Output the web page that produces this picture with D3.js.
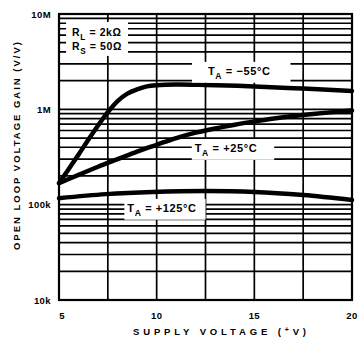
<!DOCTYPE html>
<html>
<head>
<meta charset="utf-8">
<script src="https://cdn.jsdelivr.net/npm/d3@7"></script>
<style>
  body { margin: 0; background: #fff; }
  svg { display: block; }
  text { font-family: "Liberation Sans", Arial, Helvetica, sans-serif; font-weight: bold; fill: #000; }
</style>
</head>
<body>
<svg id="chart" width="360" height="341"></svg>
<script>
// Open-loop voltage gain vs. supply voltage, three ambient temperatures
const voltsCold = [5, 5.5, 6, 6.5, 7, 7.5, 8, 8.5, 9, 9.5, 10, 11, 12.5, 15, 17.5, 20];
const gainCold  = [168e3, 237e3, 335e3, 479e3, 676e3, 933e3, 1.22e6, 1.46e6, 1.62e6, 1.74e6, 1.79e6, 1.82e6, 1.80e6, 1.74e6, 1.65e6, 1.56e6];

const voltsRoom = [5, 6, 7, 8, 9, 10, 11, 12, 13, 14, 15, 16, 17, 18, 19, 20];
const gainRoom  = [168e3, 205e3, 250e3, 300e3, 360e3, 425e3, 500e3, 570e3, 630e3, 690e3, 745e3, 800e3, 850e3, 895e3, 935e3, 970e3];

const voltsHot = [5, 7.4, 9.8, 12.5, 15, 17.5, 20];
const gainHot  = [117e3, 129e3, 136e3, 139e3, 136e3, 126e3, 112e3];

const xTicks = [5, 10, 15, 20];
const xGrid = [5, 7.5, 10, 12.5, 15, 17.5, 20];
const yTicks = [1e4, 1e5, 1e6, 1e7];
const yTickLabels = ["10k", "100k", "1M", "10M"];

const svg = d3.select("#chart");
const x = d3.scaleLinear().domain([5, 20]).range([59, 352]);
const y = d3.scaleLog().domain([1e4, 1e7]).range([300, 14]);

// grid: every 2.5 V, and 1..9 within each decade
const hGrid = [];
for (let d = 1e4; d < 1e7; d *= 10) for (let m = 1; m <= 9; m++) hGrid.push(d * m);
hGrid.push(1e7);

const grid = svg.append("g").attr("stroke", "#000").attr("stroke-width", 1.7);
grid.selectAll("line.h").data(hGrid).join("line").attr("class", "h")
  .attr("x1", x(5)).attr("x2", x(20)).attr("y1", d => y(d)).attr("y2", d => y(d));
grid.selectAll("line.v").data(xGrid).join("line").attr("class", "v")
  .attr("x1", d => x(d)).attr("x2", d => x(d)).attr("y1", y(1e4)).attr("y2", y(1e7));

// frame
svg.append("rect").attr("x", x(5)).attr("y", y(1e7))
  .attr("width", x(20) - x(5)).attr("height", y(1e4) - y(1e7))
  .attr("fill", "none").attr("stroke", "#000").attr("stroke-width", 2.2);

// annotation labels sit on white patches that break the grid
function label(parent, xPos, yBase, parts, size, pad) {
  const g = parent.append("g");
  const bg = g.append("rect").attr("fill", "#fff");
  const t = g.append("text").attr("x", xPos).attr("y", yBase)
    .attr("font-size", size).attr("letter-spacing", 0.6);
  parts.forEach(p => {
    const s = t.append("tspan").text(p.t);
    if (p.sub) s.attr("font-size", size * 0.78).attr("dy", size * 0.35);
    if (p.up) s.attr("dy", -size * 0.35);
  });
  const b = t.node().getBBox();
  bg.attr("x", b.x - pad[3]).attr("y", b.y - pad[0])
    .attr("width", b.width + pad[1] + pad[3]).attr("height", b.height + pad[0] + pad[2]);
  return g;
}

const notes = svg.append("g");
const rl = label(notes, x(5.67), y(5.88e6), [{t: "R"}, {t: "L", sub: true}, {t: " = 2kΩ", up: true}], 10.5, [0, 0, 0, 0]);
const rs = label(notes, x(5.67), y(4.19e6), [{t: "R"}, {t: "S", sub: true}, {t: " = 50Ω", up: true}], 10.5, [0, 0, 0, 0]);
// shared patch behind the two resistor lines
{
  const b1 = rl.select("text").node().getBBox();
  const b2 = rs.select("text").node().getBBox();
  const x0 = Math.min(b1.x, b2.x) - 6, x1 = Math.max(b1.x + b1.width, b2.x + b2.width) + 6;
  notes.insert("rect", ":first-child").attr("fill", "#fff")
    .attr("x", x0).attr("y", b1.y - 4).attr("width", x1 - x0).attr("height", b2.y + b2.height - b1.y + 4);
}

// curves
const line = d3.line().x(d => x(d[0])).y(d => y(d[1])).curve(d3.curveCatmullRom.alpha(0.5));
const series = [
  [voltsCold, gainCold],
  [voltsRoom, gainRoom],
  [voltsHot, gainHot]
];
svg.append("g").selectAll("path").data(series).join("path")
  .attr("d", s => line(s[0].map((v, i) => [v, s[1][i]])))
  .attr("fill", "none").attr("stroke", "#000").attr("stroke-width", 4.5)
  .attr("stroke-linecap", "round").attr("stroke-linejoin", "round");

// temperature labels
label(svg, x(12.63), y(2.3e6), [{t: "T"}, {t: "A", sub: true}, {t: " = −55°C", up: true}], 11, [3, 20, 2, 16]);
label(svg, x(11.95), y(3.57e5), [{t: "T"}, {t: "A", sub: true}, {t: " = +25°C", up: true}], 11, [3, 17, 2, 3]);
label(svg, x(8.5), y(8.4e4), [{t: "T"}, {t: "A", sub: true}, {t: " = +125°C", up: true}], 11, [3, 9, 2, 3]);

// y tick labels
svg.append("g").selectAll("text").data(yTicks).join("text")
  .attr("x", 51).attr("y", d => y(d) + 3.5)
  .attr("text-anchor", "end").attr("font-size", 9.5).attr("letter-spacing", 0.4)
  .text((d, i) => yTickLabels[i]);

// x tick labels
svg.append("g").selectAll("text").data(xTicks).join("text")
  .attr("x", d => x(d) + (d === 5 ? 3 : 0)).attr("y", 319)
  .attr("text-anchor", "middle").attr("font-size", 9.5).attr("letter-spacing", 0.4)
  .text(d => d);

// axis titles
const xt = svg.append("text").attr("x", 133).attr("y", 335).attr("font-size", 9.5)
  .attr("textLength", 173).attr("lengthAdjust", "spacing");
xt.append("tspan").text("SUPPLY VOLTAGE (");
xt.append("tspan").text("+").attr("font-size", 7).attr("dy", -3);
xt.append("tspan").text("V)").attr("dy", 3);

svg.append("text")
  .attr("transform", "translate(20,250) rotate(-90)")
  .attr("font-size", 9.5).attr("textLength", 208).attr("lengthAdjust", "spacing")
  .text("OPEN LOOP VOLTAGE GAIN (V/V)");
</script>
</body>
</html>
